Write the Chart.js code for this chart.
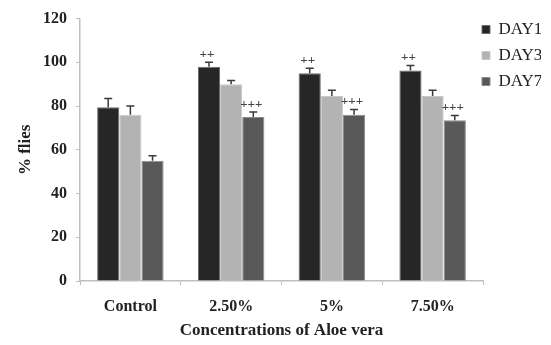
<!DOCTYPE html>
<html>
<head>
<meta charset="utf-8">
<script src="https://cdn.jsdelivr.net/npm/chart.js@4"></script>
<style>
  html, body { margin: 0; padding: 0; background: #fff; }
  #wrap { width: 551px; height: 345px; }
</style>
</head>
<body>
<div id="wrap"><canvas id="c" width="551" height="345"></canvas></div>
<script>
// dados
const categories = ['Control', '2.50%', '5%', '7.50%'];
const day1 = [79.5, 98, 95, 96.3];
const day3 = [76, 90, 84.6, 84.6];
const day7 = [55, 75, 76, 73.5];
const day1Err = [4, 2, 2.3, 2.3];
const day3Err = [4, 1.7, 2.6, 2.6];
const day7Err = [2.3, 2.3, 2.4, 2.2];
const day1Marks = ['', '++', '++', '++'];
const day3Marks = ['', '', '', ''];
const day7Marks = ['', '+++', '+++', '+++'];
const yTicks = [0, 20, 40, 60, 80, 100, 120];

const serif = '"Liberation Serif", "DejaVu Serif", serif';

// barras de erro + marcas de significancia
const extras = {
  id: 'extras',
  afterLayout(chart) {
    // a legenda fica um pouco a esquerda, como no original
    const l = chart.legend;
    if (l) { l.left -= 10; l.right -= 10; }
  },
  afterDatasetsDraw(chart) {
    const ctx = chart.ctx;
    const y = chart.scales.y;
    const errs = [day1Err, day3Err, day7Err];
    const marks = [day1Marks, day3Marks, day7Marks];
    ctx.save();
    chart.data.datasets.forEach((ds, i) => {
      const meta = chart.getDatasetMeta(i);
      meta.data.forEach((bar, j) => {
        const v = ds.data[j];
        const top = y.getPixelForValue(v + errs[i][j]);
        ctx.strokeStyle = '#3a3a3a';
        ctx.lineWidth = 1.5;
        ctx.beginPath();
        ctx.moveTo(bar.x, bar.y);
        ctx.lineTo(bar.x, top);
        ctx.moveTo(bar.x - 4, top);
        ctx.lineTo(bar.x + 4, top);
        ctx.stroke();
        if (marks[i][j]) {
          ctx.fillStyle = '#444';
          ctx.font = 'bold 13px ' + serif;
          ctx.textAlign = 'center';
          ctx.textBaseline = 'bottom';
          ctx.fillText(marks[i][j], bar.x - 2, top - 1);
        }
      });
    });
    ctx.restore();
  }
};

new Chart(document.getElementById('c').getContext('2d'), {
  type: 'bar',
  data: {
    labels: categories,
    datasets: [
      { label: 'DAY1', data: day1, backgroundColor: '#262626', borderColor: '#6a6a6a', borderWidth: 1 },
      { label: 'DAY3', data: day3, backgroundColor: '#b3b3b3', borderColor: '#c8c8c8', borderWidth: 1 },
      { label: 'DAY7', data: day7, backgroundColor: '#595959', borderColor: '#8a8a8a', borderWidth: 1 }
    ]
  },
  options: {
    responsive: false,
    animation: false,
    layout: { padding: { top: 12, right: 0, left: 11, bottom: 0 } },
    datasets: { bar: { categoryPercentage: 0.66, barPercentage: 1.0 } },
    plugins: {
      legend: {
        position: 'right',
        align: 'start',
        maxWidth: 68,
        labels: {
          font: { family: serif, size: 17 },
          color: '#222',
          boxWidth: 8,
          boxHeight: 8,
          padding: 9
        }
      },
      tooltip: { enabled: false }
    },
    scales: {
      x: {
        grid: { display: true, drawOnChartArea: false, offset: true, tickLength: 4, color: '#bfbfbf' },
        border: { color: '#bfbfbf', width: 1.5 },
        ticks: { font: { family: serif, size: 16, weight: 'bold' }, color: '#222', padding: 12 },
        title: {
          display: true, text: 'Concentrations of Aloe vera',
          font: { family: serif, size: 17, weight: 'bold' }, color: '#222'
        },
        afterFit(s) { s.height = 64; }
      },
      y: {
        min: 0, max: 120,
        afterBuildTicks(s) { s.ticks = yTicks.map(v => ({ value: v })); },
        grid: { display: true, drawOnChartArea: false, tickLength: 4, color: '#bfbfbf' },
        border: { color: '#bfbfbf', width: 1.5 },
        ticks: { font: { family: serif, size: 16, weight: 'bold' }, color: '#222', padding: 9 },
        title: {
          display: true, text: '% flies',
          font: { family: serif, size: 17, weight: 'bold' }, color: '#222'
        },
        afterFit(s) { s.width = 69; }
      }
    }
  },
  plugins: [extras]
});
</script>
</body>
</html>
